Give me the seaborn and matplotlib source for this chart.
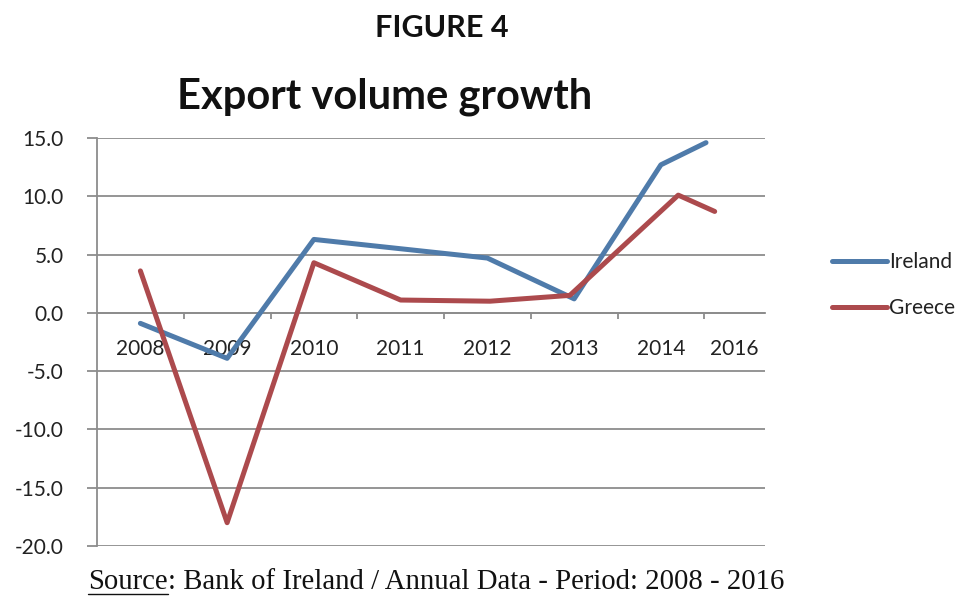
import matplotlib
matplotlib.use("Agg")
import matplotlib.pyplot as plt
from matplotlib.lines import Line2D
from matplotlib.ticker import FixedLocator, FormatStrFormatter
import seaborn as sns
import pandas as pd

# ---- data ----
year_labels = ["2008", "2009", "2010", "2011", "2012", "2013", "2014", "2016"]
ireland_x = [0, 1, 2, 3, 4, 5, 6, 6.52]
ireland_y = [-0.9, -3.9, 6.3, 5.5, 4.7, 1.2, 12.7, 14.6]
greece_x = [0, 1, 2, 3, 4.03, 4.95, 6.2, 6.62]
greece_y = [3.6, -18.0, 4.3, 1.1, 1.0, 1.5, 10.1, 8.7]
y_ticks = [-20, -15, -10, -5, 0, 5, 10, 15]

df = pd.concat([
    pd.DataFrame({"x": ireland_x, "value": ireland_y, "Country": "Ireland"}),
    pd.DataFrame({"x": greece_x, "value": greece_y, "Country": "Greece"}),
], ignore_index=True)

sns.set_theme(style="white")
plt.rcParams["font.family"] = ["Lato", "DejaVu Sans"]

W, H = 968, 603
fig = plt.figure(figsize=(W / 100, H / 100), dpi=100)
fig.patch.set_facecolor("white")
ax = fig.add_axes([97 / W, 1 - 546 / H, (765 - 97) / W, (546 - 138) / H])
ax.set_facecolor("white")

palette = {"Ireland": "#4F7BAA", "Greece": "#AC4A4D"}
sns.lineplot(data=df, x="x", y="value", hue="Country", palette=palette,
             sort=False, estimator=None, linewidth=3.6, ax=ax, legend=False,
             solid_joinstyle="round", solid_capstyle="round", zorder=3)

grid_col = "#8C8C8C"
ax.set_ylim(-20, 15)
ax.set_xlim(-0.5, 7.2)
for v in y_ticks:
    ax.axhline(v, color=grid_col, lw=1.3, zorder=1)

for s in ["top", "right"]:
    ax.spines[s].set_visible(False)
ax.spines["left"].set_color(grid_col)
ax.spines["left"].set_linewidth(1.3)
ax.spines["bottom"].set_position(("data", 0))
ax.spines["bottom"].set_color(grid_col)
ax.spines["bottom"].set_linewidth(1.3)

ax.set_yticks(y_ticks)
ax.yaxis.set_major_formatter(FormatStrFormatter("%.1f"))
ax.tick_params(axis="y", which="major", left=True, length=7, width=1.3,
               color=grid_col, pad=17, labelsize=15, labelcolor="#222222")

label_pos = [0, 1, 2, 3, 4, 5, 6, 6.85]
ax.set_xticks(label_pos)
ax.set_xticklabels(year_labels)
ax.xaxis.set_minor_locator(FixedLocator([0.5, 1.5, 2.5, 3.5, 4.5, 5.5, 6.5]))
ax.tick_params(axis="x", which="major", bottom=True, length=0, pad=19,
               labelsize=15, labelcolor="#222222")
ax.tick_params(axis="x", which="minor", bottom=True, length=4.5, width=1.3,
               color=grid_col)
ax.set_xlabel("")
ax.set_ylabel("")

handles = [Line2D([], [], color=palette["Ireland"], lw=3.6),
           Line2D([], [], color=palette["Greece"], lw=3.6)]
fig.legend(handles, ["Ireland", "Greece"], loc="center left",
           bbox_to_anchor=(813 / W, 1 - 285 / H), frameon=False,
           fontsize=15, handlelength=2.65, handletextpad=0.1,
           labelspacing=1.25, labelcolor="#222222")

fig.text(442 / W, 1 - 28 / H, "FIGURE 4", ha="center", va="center",
         fontsize=22, fontweight="bold", color="#111111")
fig.text(385 / W, 1 - 97 / H, "Export volume growth", ha="center", va="center",
         fontsize=30, fontweight="bold", color="#111111")

# Source line with underlined "Source"
renderer = fig.canvas.get_renderer()
sy = 1 - 582 / H
fs = 20.7
t1 = fig.text(88 / W, sy, "Source", ha="left", va="center",
              fontsize=fs, family="Liberation Serif", color="#111111")
bb = t1.get_window_extent(renderer)
fig.add_artist(Line2D([bb.x0 / W, bb.x1 / W], [(bb.y0 + 1) / H, (bb.y0 + 1) / H],
                      color="#111111", lw=1.0, transform=fig.transFigure))
fig.text(bb.x1 / W, sy, ": Bank of Ireland / Annual Data - Period: 2008 - 2016",
         ha="left", va="center", fontsize=fs, family="Liberation Serif",
         color="#111111")

fig.savefig("out.png", dpi=100, facecolor="white")
